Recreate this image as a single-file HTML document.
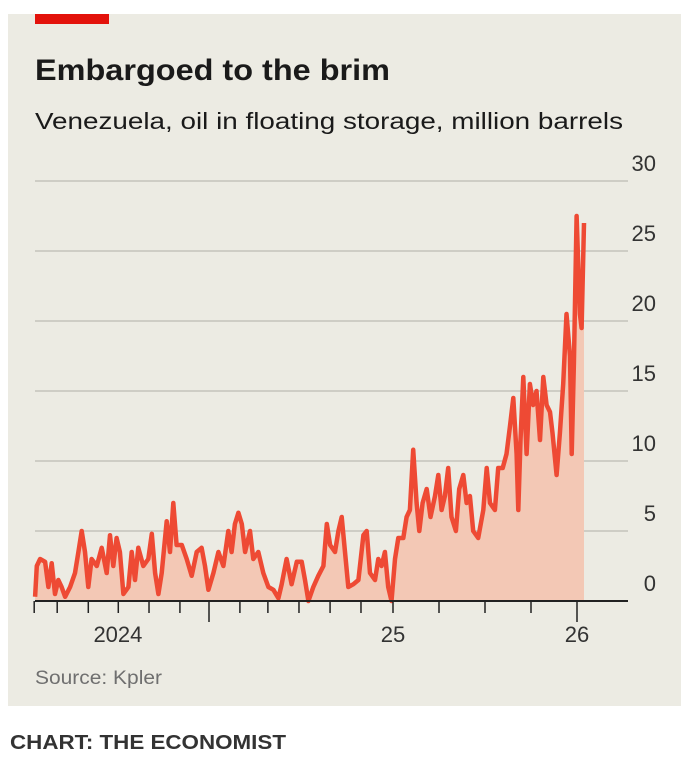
<!DOCTYPE html>
<html><head><meta charset="utf-8"><style>
body{margin:0;background:#fff;width:698px;height:764px;overflow:hidden;font-family:"Liberation Sans",sans-serif}
</style></head><body>
<svg id="chart" width="698" height="764" viewBox="0 0 698 764">
<rect x="8" y="14" width="673" height="692" fill="#ecebe3"/>
<rect x="35" y="14" width="74" height="10" fill="#e3120b"/>
<text x="35" y="80" font-size="30" font-weight="bold" fill="#1a1a1a" textLength="355" lengthAdjust="spacingAndGlyphs">Embargoed to the brim</text>
<text x="35" y="129" font-size="23" fill="#1a1a1a" textLength="588" lengthAdjust="spacingAndGlyphs">Venezuela, oil in floating storage, million barrels</text>
<g id="grid"></g>
<g id="series"></g>
<g id="xaxis"></g>
<text x="35" y="684" font-size="19" fill="#6f6f6f" textLength="127" lengthAdjust="spacingAndGlyphs">Source: Kpler</text>
<text x="10" y="749" font-size="20" font-weight="bold" fill="#333" textLength="276" lengthAdjust="spacingAndGlyphs">CHART: THE ECONOMIST</text>
</svg>
<script>
const dates=[2023.055,2023.064,2023.082,2023.109,2023.127,2023.145,2023.163,2023.181,2023.199,2023.218,2023.245,2023.272,2023.290,2023.308,2023.326,2023.344,2023.362,2023.390,2023.417,2023.444,2023.462,2023.480,2023.498,2023.516,2023.535,2023.562,2023.580,2023.598,2023.616,2023.643,2023.670,2023.689,2023.707,2023.725,2023.743,2023.770,2023.788,2023.806,2023.824,2023.852,2023.879,2023.906,2023.933,2023.960,2023.978,2023.997,2024.024,2024.051,2024.078,2024.105,2024.123,2024.141,2024.160,2024.178,2024.196,2024.223,2024.241,2024.268,2024.295,2024.323,2024.350,2024.377,2024.395,2024.422,2024.449,2024.477,2024.504,2024.522,2024.540,2024.567,2024.594,2024.622,2024.640,2024.658,2024.685,2024.703,2024.721,2024.739,2024.757,2024.785,2024.812,2024.839,2024.857,2024.875,2024.902,2024.920,2024.938,2024.956,2024.974,2024.992,2025.011,2025.029,2025.056,2025.074,2025.092,2025.110,2025.128,2025.143,2025.161,2025.183,2025.204,2025.228,2025.246,2025.264,2025.282,2025.300,2025.318,2025.342,2025.360,2025.382,2025.400,2025.418,2025.436,2025.463,2025.491,2025.509,2025.527,2025.554,2025.572,2025.596,2025.617,2025.636,2025.654,2025.672,2025.681,2025.693,2025.708,2025.726,2025.744,2025.762,2025.780,2025.799,2025.817,2025.835,2025.853,2025.867,2025.889,2025.907,2025.925,2025.943,2025.962,2025.971,2025.983,2025.998,2026.016,2026.025,2026.038];
const values=[0.3,2.5,3,2.8,1,2.7,0.5,1.5,1,0.3,1,2,3.5,5,3.5,1,3,2.5,3.8,2,4.7,2.5,4.5,3.5,0.5,1,3.5,1.5,3.8,2.5,3,4.8,2,0.5,2,5.7,3.5,7,4,4,3,1.8,3.5,3.8,2.5,0.8,2,3.5,2.5,5,3.5,5.5,6.3,5.5,3.5,5,3,3.5,2,1,0.8,0.2,1.2,3,1.2,2.8,2.8,1.5,0,1,1.8,2.5,5.5,4,3.5,5,6,3.5,1,1.2,1.5,4.7,5,2,1.5,3,2.5,3.5,1,0,3,4.5,4.5,6,6.5,10.8,7,5,7,8,6,7.5,9,6.5,7.5,9.5,6,5,8,9,7,7.5,5,4.5,6.5,9.5,7,6.5,9.5,9.5,10.5,12.5,14.5,10.5,6.5,11.5,16,10.5,15.5,14,15,11.5,16,14,13.5,12,9,12,15.5,20.5,17.5,10.5,17,27.5,20.5,19.5,27];
const yTicks=[0,5,10,15,20,25,30];
const xTickDates=[2023.050,2023.175,2023.344,2023.507,2023.674,2023.842,2024.0,2024.168,2024.320,2024.489,2024.658,2024.826,2025.0,2025.25,2025.5,2025.75,2026.0];
const majorTicks=[2024.0,2026.0];
const xLabels=["2024","25","26"];
const xLabelDates=[2023.505,2025.0,2026.0];
const NS="http://www.w3.org/2000/svg";
const x0=393,pxYear=184,y0=601,pxUnit=14;
const X=t=>x0+(t-2025)*pxYear;
const Y=v=>y0-v*pxUnit;
function mk(tag,attrs,parent){const e=document.createElementNS(NS,tag);for(const k in attrs)e.setAttribute(k,attrs[k]);parent.appendChild(e);return e;}
const grid=document.getElementById('grid');
yTicks.forEach(v=>{
  if(v>0){const l=mk('line',{x1:35,x2:628,y1:Y(v),y2:Y(v),stroke:'#c4c3bb','stroke-width':1.5},grid);
  
  }
  const t=mk('text',{x:656,y:Y(v)-10,'text-anchor':'end','font-size':22,fill:'#333'},grid);
  t.textContent=v;
  
  
});
const s=document.getElementById('series');
let pts=dates.map((d,i)=>X(d).toFixed(1)+','+Y(values[i]).toFixed(1));
const area=mk('path',{d:'M'+X(dates[0]).toFixed(1)+','+y0+' L'+pts.join(' L')+' L'+X(dates[dates.length-1]).toFixed(1)+','+y0+' Z',fill:'#f3c8b5'},s);


const line=mk('polyline',{points:pts.join(' '),fill:'none',stroke:'#ee4a34','stroke-width':4.5,'stroke-linejoin':'round'},s);


const xa=document.getElementById('xaxis');
const ax=mk('line',{x1:35,x2:628,y1:y0,y2:y0,stroke:'#222','stroke-width':2},xa);


xTickDates.forEach(d=>{
  const maj=majorTicks.includes(d);
  const t=mk('line',{x1:X(d),x2:X(d),y1:y0,y2:y0+(maj?21:12),stroke:'#222','stroke-width':1.5},xa);
  
  
});
xLabels.forEach((l,i)=>{
  const t=mk('text',{x:X(xLabelDates[i]),y:642,'text-anchor':'middle','font-size':22,fill:'#333'},xa);
  t.textContent=l;
  
  
});
</script>
</body></html>
